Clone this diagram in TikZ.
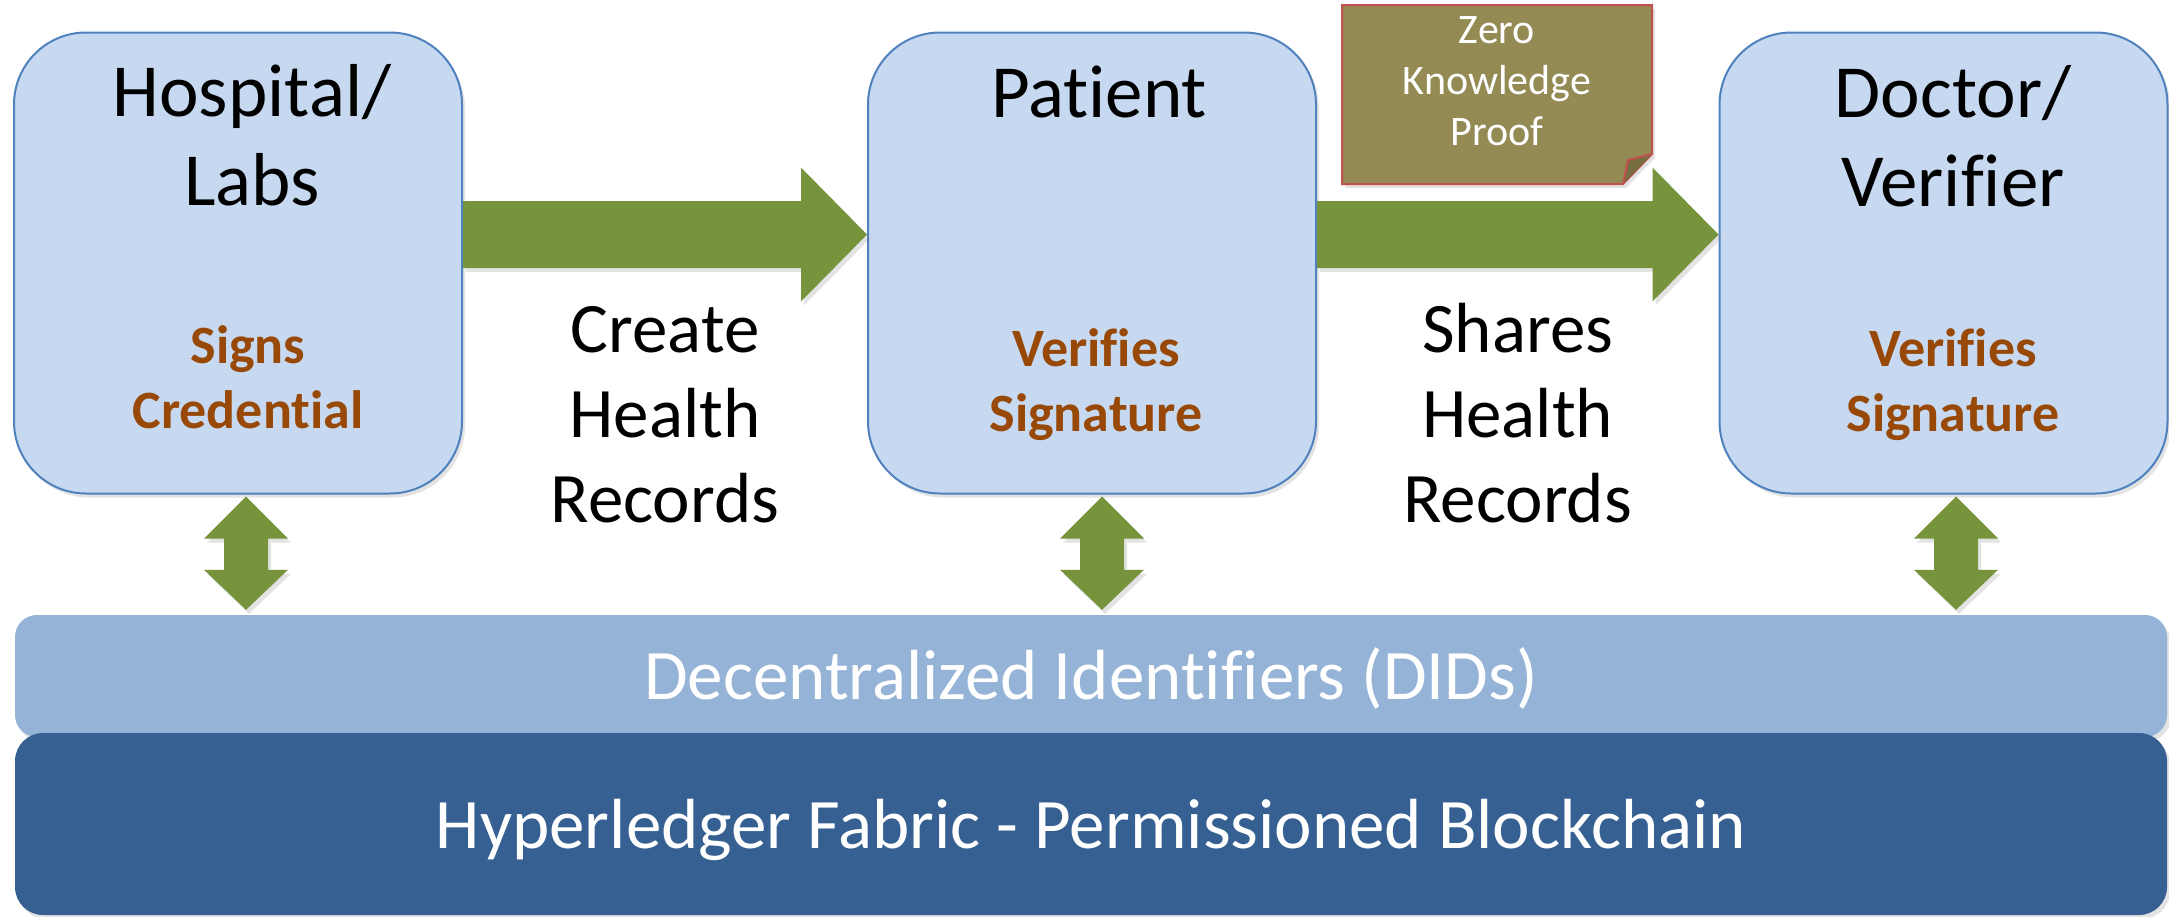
\documentclass[tikz,border=0pt]{standalone}
\usepackage{fontspec}
\setmainfont{Carlito}[Ligatures=NoCommon]
\usetikzlibrary{calc,shadows}

\definecolor{boxfill}{HTML}{C6D9F1}
\definecolor{boxline}{HTML}{4F81BD}
\definecolor{arrowgreen}{HTML}{77933C}
\definecolor{signbrown}{HTML}{984807}
\definecolor{didblue}{HTML}{95B3D7}
\definecolor{chainblue}{HTML}{366092}
\definecolor{notefill}{HTML}{948A54}
\definecolor{notefold}{HTML}{766E41}
\definecolor{noteline}{HTML}{C0504D}

\tikzset{
  softshadow/.style={drop shadow={shadow xshift=3pt, shadow yshift=-4pt, opacity=.22}},
  party/.style={draw=boxline, fill=boxfill, line width=2pt, rounded corners=72pt,
    minimum width=448pt, minimum height=461pt, inner sep=0pt, softshadow},
  partytitle/.style={align=center, anchor=base, font=\fontsize{75}{89}\selectfont},
  partysign/.style={align=center, anchor=base, text=signbrown, font=\fontsize{54}{65}\selectfont\bfseries},
  flowlabel/.style={align=center, anchor=base, font=\fontsize{71}{85}\selectfont},
  band/.style={minimum width=2152pt, inner sep=0pt, text=white, font=\fontsize{71}{84}\selectfont, softshadow}
}

% fat block arrow from #1 (tail, middle of shaft) to #2 (tip)
\newcommand{\fatarrow}[2]{%
  \fill[arrowgreen, softshadow] ($(#1)+(0,-33.5)$) -- ($(#2)+(-66,-33.5)$) -- ($(#2)+(-66,-67)$) -- (#2)
    -- ($(#2)+(-66,67)$) -- ($(#2)+(-66,33.5)$) -- ($(#1)+(0,33.5)$) -- cycle;}

% up-down block arrow from tip #1 (top) to tip #2 (bottom)
\newcommand{\twinarrow}[2]{%
  \fill[arrowgreen, softshadow] (#1) -- ($(#1)+(42,42)$) -- ($(#1)+(22,42)$) -- ($(#2)+(22,-40)$)
    -- ($(#2)+(42,-40)$) -- (#2) -- ($(#2)+(-42,-40)$) -- ($(#2)+(-22,-40)$)
    -- ($(#1)+(-22,42)$) -- ($(#1)+(-42,42)$) -- cycle;}

\begin{document}
\begin{tikzpicture}[x=1pt,y=-1pt]
  \useasboundingbox (0,0) rectangle (2169,916);

  % Drawing box Hospital/Labs (base = last line)
  \draw (238,263) node [party] (hosp) {};%
  \draw (252,205) node [partytitle] (hosptitle) {Hospital/\\Labs};%
  \draw (248,428) node [partysign] (hospsign) {Signs\\Credential};%

  % Drawing box Patient
  \draw (1092,263) node [party] (pat) {};%
  \draw (1099,117) node [partytitle] (pattitle) {Patient};%
  \draw (1096,431) node [partysign] (patsign) {Verifies\\Signature};%

  % Drawing box Doctor/Verifier
  \draw (1943.5,263) node [party] (doc) {};%
  \draw (1953,206) node [partytitle] (doctitle) {Doctor/\\Verifier};%
  \draw (1953,431) node [partysign] (docsign) {Verifies\\Signature};%

  % Drawing band DIDs
  \draw (1091,676) node [band, fill=didblue, rounded corners=22pt, minimum height=122pt,
    text height=46pt, text depth=0pt] (did) {Decentralized Identifiers (DIDs)};%

  % Drawing band Fabric
  \draw (1091,824) node [band, fill=chainblue, rounded corners=28pt, minimum height=182pt,
    text height=48pt, text depth=0pt] (chain) {Hyperledger Fabric - Permissioned Blockchain};%

  % Drawing arrow Hospital -> Patient
  \coordinate (a1s) at ([yshift=28.5pt]hosp.east);%
  \coordinate (a1e) at ([yshift=28.5pt]pat.west);%
  \fatarrow{a1s}{a1e}%
  \path (a1s) -- (a1e) node [midway, yshift=-287.5pt, flowlabel] (create) {Create\\Health\\Records};%

  % Drawing arrow Patient -> Doctor
  \coordinate (a2s) at ([yshift=28.5pt]pat.east);%
  \coordinate (a2e) at ([yshift=28.5pt]doc.west);%
  \fatarrow{a2s}{a2e}%
  \path (a2s) -- (a2e) node [midway, yshift=-287.5pt, flowlabel] (share) {Shares\\Health\\Records};%

  % Drawing up-down arrows to the DIDs
  \coordinate (h1) at ([xshift=8pt,yshift=-2pt]hosp.south);%
  \path (h1 |- did.north) ++(0,-5) coordinate (h2);%
  \twinarrow{h1}{h2}%
  \coordinate (p1) at ([xshift=10pt,yshift=-2pt]pat.south);%
  \path (p1 |- did.north) ++(0,-5) coordinate (p2);%
  \twinarrow{p1}{p2}%
  \coordinate (d1) at ([xshift=12.5pt,yshift=-2pt]doc.south);%
  \path (d1 |- did.north) ++(0,-5) coordinate (d2);%
  \twinarrow{d1}{d2}%

  % Drawing note Zero Knowledge Proof
  \filldraw [fill=notefill, draw=noteline, line width=2pt, softshadow]
    (1342,5) -- (1652,5) -- (1652,154) -- (1623,184) -- (1342,184) -- cycle;%
  \filldraw [fill=notefold, draw=noteline, line width=2pt, line join=round]
    (1652,154) -- (1628,160) -- (1623,184);%
  \draw (1497,145) node [anchor=base, align=center, text=white, font=\fontsize{42}{51}\selectfont] (zkp)
    {Zero\\Knowledge\\Proof};%
\end{tikzpicture}
\end{document}
